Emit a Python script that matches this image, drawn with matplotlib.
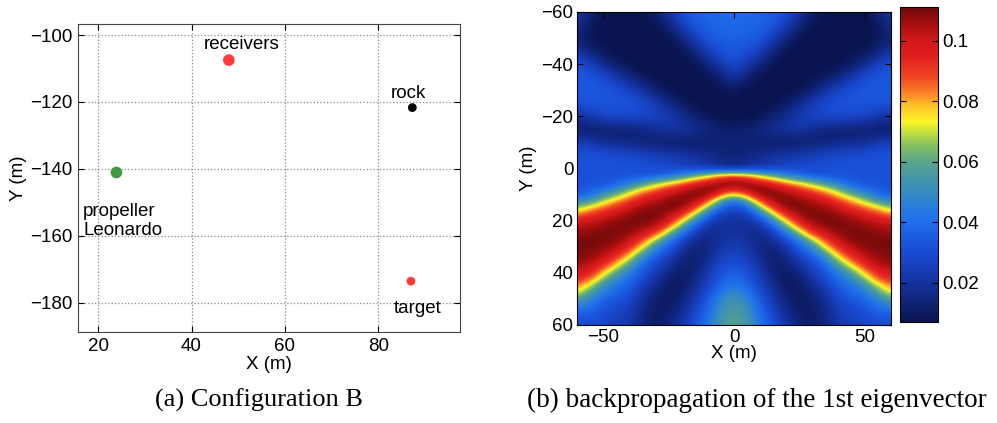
import matplotlib
matplotlib.use("Agg")
import matplotlib.pyplot as plt
import numpy as np
from matplotlib.colors import Normalize, LinearSegmentedColormap

plt.rcParams['font.family'] = ['Liberation Sans', 'DejaVu Sans']

# ---------------- data: panel (a) ----------------
obj_names = ['receivers', 'rock', 'propeller\nLeonardo', 'target']
obj_x = [48.0, 87.3, 23.9, 87.0]
obj_y = [-107.5, -121.7, -141.1, -173.6]
obj_colors = ['#ff3b3b', '#000000', '#3f9a3f', '#ff3b3b']

xticks_a = [20, 40, 60, 80]
yticks_a = [-180, -160, -140, -120, -100]

# ---------------- data: panel (b) ----------------
grid_x = list(range(-60, 61, 5))
# upper half: Y = -60 ... 0 every 5 m  (values in units of 1e-3)
grid_y_top = list(range(-60, 1, 5))
value_milli_top = [
    [24,14,8,6,6,8,12,22,32,36,38,39,40,39,38,36,32,22,12,8,6,6,8,14,24],
    [18,9,6,6,5,6,8,14,26,34,37,38,39,38,37,34,26,14,8,6,5,6,6,9,18],
    [14,8,7,6,6,5,6,8,14,26,34,36,37,36,34,26,14,8,6,5,6,6,7,8,14],
    [20,12,8,7,6,6,5,6,8,14,26,32,34,32,26,14,8,6,5,6,6,7,8,12,20],
    [32,26,16,10,7,6,6,5,6,8,14,24,30,24,14,8,6,5,6,6,7,10,16,26,32],
    [34,34,30,22,14,9,7,6,5,6,8,12,22,12,8,6,5,6,7,9,14,22,30,34,34],
    [34,34,34,32,27,20,12,8,6,5,6,7,10,7,6,5,6,8,12,20,27,32,34,34,34],
    [33,33,33,33,33,30,24,16,10,7,6,6,6,6,6,7,10,16,24,30,33,33,33,33,33],
    [20,24,28,30,30,30,28,24,18,12,8,6,5,6,8,12,18,24,28,30,30,30,28,24,20],
    [9,10,11,12,12,14,18,22,22,20,16,13,12,13,16,20,22,22,18,14,12,12,11,10,9],
    [26,22,18,16,15,13,11,10,9,10,11,13,14,13,11,10,9,10,11,13,15,16,18,22,26],
    [33,33,32,31,30,28,26,24,22,20,17,14,12,14,17,20,22,24,26,28,30,31,32,33,33],
    [32,32,32,32,32,31,30,30,28,26,24,22,18,22,24,26,28,30,30,31,32,32,32,32,32],
]
# lower half: Y = 0 ... 60 every 2.5 m
grid_y_bot = [0, 2.5, 5, 7.5, 10, 12.5, 15, 17.5, 20, 22.5, 25, 27.5, 30,
              32.5, 35, 37.5, 40, 42.5, 45, 47.5, 50, 52.5, 55, 57.5, 60]
value_milli_bot = [
    [32,32,32,32,32,31,30,30,28,26,24,22,18,22,24,26,28,30,30,31,32,32,32,32,32],
    [32,32,32,32,32,32,33,38,46,55,66,76,80,76,66,55,46,38,33,32,32,32,32,32,32],
    [32,32,32,34,40,48,58,66,75,88,95,104,110,104,95,88,75,66,58,48,40,34,32,32,32],
    [32,34,38,45,58,70,80,90,98,104,110,108,100,108,110,104,98,90,80,70,58,45,38,34,32],
    [36,40,52,62,75,88,95,102,106,110,108,88,72,88,108,110,106,102,95,88,75,62,52,40,36],
    [48,55,68,80,90,100,104,108,110,106,88,58,40,58,88,106,110,108,104,100,90,80,68,55,48],
    [65,75,85,92,100,106,108,110,108,92,66,36,30,36,66,92,108,110,108,106,100,92,85,75,65],
    [82,90,96,102,106,110,110,106,96,72,42,26,24,26,42,72,96,106,110,110,106,102,96,90,82],
    [96,100,104,107,110,110,108,100,78,50,28,21,20,21,28,50,78,100,108,110,110,107,104,100,96],
    [104,105,108,109,110,107,102,85,58,34,20,19,20,19,20,34,58,85,102,107,110,109,108,105,104],
    [106,108,110,110,107,100,90,64,40,25,16,19,20,19,16,25,40,64,90,100,107,110,110,108,106],
    [110,110,110,108,102,90,68,45,30,18,15,20,22,20,15,18,30,45,68,90,102,108,110,110,110],
    [110,110,108,104,95,76,50,36,23,14,15,22,24,22,15,14,23,36,50,76,95,104,108,110,110],
    [110,108,105,97,84,58,40,30,18,12,16,24,27,24,16,12,18,30,40,58,84,97,105,108,110],
    [108,106,100,88,68,45,32,24,14,11,18,27,30,27,18,11,14,24,32,45,68,88,100,106,108],
    [104,102,92,73,55,38,28,20,12,12,20,30,33,30,20,12,12,20,28,38,55,73,92,102,104],
    [99,96,78,58,45,33,24,15,10,13,23,32,37,32,23,13,10,15,24,33,45,58,78,96,99],
    [93,86,64,48,40,30,20,12,10,15,25,35,40,35,25,15,10,12,20,30,40,48,64,86,93],
    [84,70,50,42,35,25,17,10,10,17,28,38,44,38,28,17,10,10,17,25,35,42,50,70,84],
    [74,58,44,38,32,22,14,10,11,20,31,43,50,43,31,20,11,10,14,22,32,38,44,58,74],
    [58,48,38,33,30,18,12,9,13,22,34,47,54,47,34,22,13,9,12,18,30,33,38,48,58],
    [48,42,34,30,27,17,11,10,15,25,37,50,56,50,37,25,15,10,11,17,27,30,34,42,48],
    [38,36,31,28,25,16,10,11,17,27,39,52,58,52,39,27,17,11,10,16,25,28,31,36,38],
    [33,33,30,26,23,15,10,12,19,30,41,54,59,54,41,30,19,12,10,15,23,26,30,33,33],
    [30,30,28,24,22,15,10,14,22,32,43,55,60,55,43,32,22,14,10,15,22,24,28,30,30],
]
cbar_min, cbar_max = 0.0071, 0.1110
cbar_ticks = [0.02, 0.04, 0.06, 0.08, 0.1]
cbar_labels = ['0.02', '0.04', '0.06', '0.08', '0.1']
xticks_b = [-50, 0, 50]
yticks_b = [-60, -40, -20, 0, 20, 40, 60]

captions = ['(a) Configuration B', '(b) backpropagation of the 1st eigenvector']

# colormap anchors (printed jet look)
cmap_vals = [0.0071, 0.02, 0.03, 0.04, 0.045, 0.05, 0.055, 0.06, 0.065, 0.07,
             0.073, 0.078, 0.082, 0.088, 0.095, 0.1, 0.105, 0.111]
cmap_cols = ['#0a1450', '#14329f', '#194bd2', '#1e6eeb', '#287ddc', '#378cbe',
             '#4696a5', '#5aa58c', '#82be64', '#c8e13c', '#faf528', '#ffc828',
             '#fa8c28', '#f04623', '#e11e1e', '#d21919', '#aa0f0f', '#6e0a0a']
pos = [(v - cmap_vals[0]) / (cmap_vals[-1] - cmap_vals[0]) for v in cmap_vals]
pos[-1] = 1.0
cmap = LinearSegmentedColormap.from_list('printjet', list(zip(pos, cmap_cols)), N=512)

FS = 13.5
fig = plt.figure(figsize=(9.97, 4.23), dpi=100)

# ---------------- panel (a) ----------------
ax1 = fig.add_axes([0.0779, 0.2151, 0.3834, 0.7274])
sizes = [70, 40, 70, 40]
ax1.scatter(obj_x, obj_y, s=sizes, c=obj_colors, zorder=3, linewidths=0)
offsets = [(9.5, 11.5), (-3, 10.5), (-24, -35), (5, -20)]
has = ['center', 'center', 'left', 'center']
for name, x, y, off, ha in zip(obj_names, obj_x, obj_y, offsets, has):
    ax1.annotate(name, (x, y), xytext=off, textcoords='offset points',
                 ha=ha, va='center', fontsize=FS, linespacing=1.15)
ax1.set_xlim(15.6, 97.5)
ax1.set_ylim(-188.8, -96.8)
ax1.set_xticks(xticks_a)
ax1.set_yticks(yticks_a)
ax1.grid(True, linestyle=':', color='#8a8a8a', linewidth=0.9)
ax1.tick_params(direction='in', top=True, right=True, labelsize=FS, length=4, pad=4)
ax1.set_xlabel('X (m)', fontsize=FS, labelpad=1)
ax1.set_ylabel('Y (m)', fontsize=FS, labelpad=2)
for s in ax1.spines.values():
    s.set_color('#444444')

# ---------------- panel (b) ----------------
norm = Normalize(cbar_min, cbar_max)
ax2 = fig.add_axes([0.5792, 0.2317, 0.3144, 0.740])
hx = (grid_x[1] - grid_x[0]) / 2
ht = (grid_y_top[1] - grid_y_top[0]) / 2
hb = (grid_y_bot[1] - grid_y_bot[0]) / 2
Zt = np.array(value_milli_top) / 1000.0
Zb = np.array(value_milli_bot) / 1000.0
ax2.imshow(Zt, cmap=cmap, norm=norm, interpolation='bicubic', aspect='auto',
           extent=(grid_x[0] - hx, grid_x[-1] + hx, grid_y_top[-1] + ht, grid_y_top[0] - ht),
           zorder=1)
im = ax2.imshow(Zb, cmap=cmap, norm=norm, interpolation='bicubic', aspect='auto',
                extent=(grid_x[0] - hx, grid_x[-1] + hx, grid_y_bot[-1] + hb, grid_y_bot[0] - hb),
                zorder=2)
ax2.set_xlim(grid_x[0], grid_x[-1])
ax2.set_ylim(grid_y_bot[-1], grid_y_top[0])
ax2.set_xticks(xticks_b)
ax2.set_yticks(yticks_b)
ax2.tick_params(direction='in', top=True, right=True, labelsize=FS, length=4, pad=3)
ax2.set_xlabel('X (m)', fontsize=FS, labelpad=-1)
ax2.set_ylabel('Y (m)', fontsize=FS, labelpad=3)
for s in ax2.spines.values():
    s.set_zorder(5)

cax = fig.add_axes([0.9027, 0.2395, 0.0378, 0.7433])
cb = fig.colorbar(im, cax=cax, ticks=cbar_ticks)
cb.ax.set_yticklabels(cbar_labels)
cb.ax.tick_params(direction='in', left=True, right=True, labelsize=FS, length=4, pad=3)

# ---------------- captions ----------------
fig.text(259 / 997, 1 - 400 / 423, captions[0], family='Liberation Serif',
         fontsize=19, ha='center', va='center')
fig.text(757 / 997, 1 - 400 / 423, captions[1], family='Liberation Serif',
         fontsize=19.5, ha='center', va='center')

fig.savefig('out.png', dpi=100)
